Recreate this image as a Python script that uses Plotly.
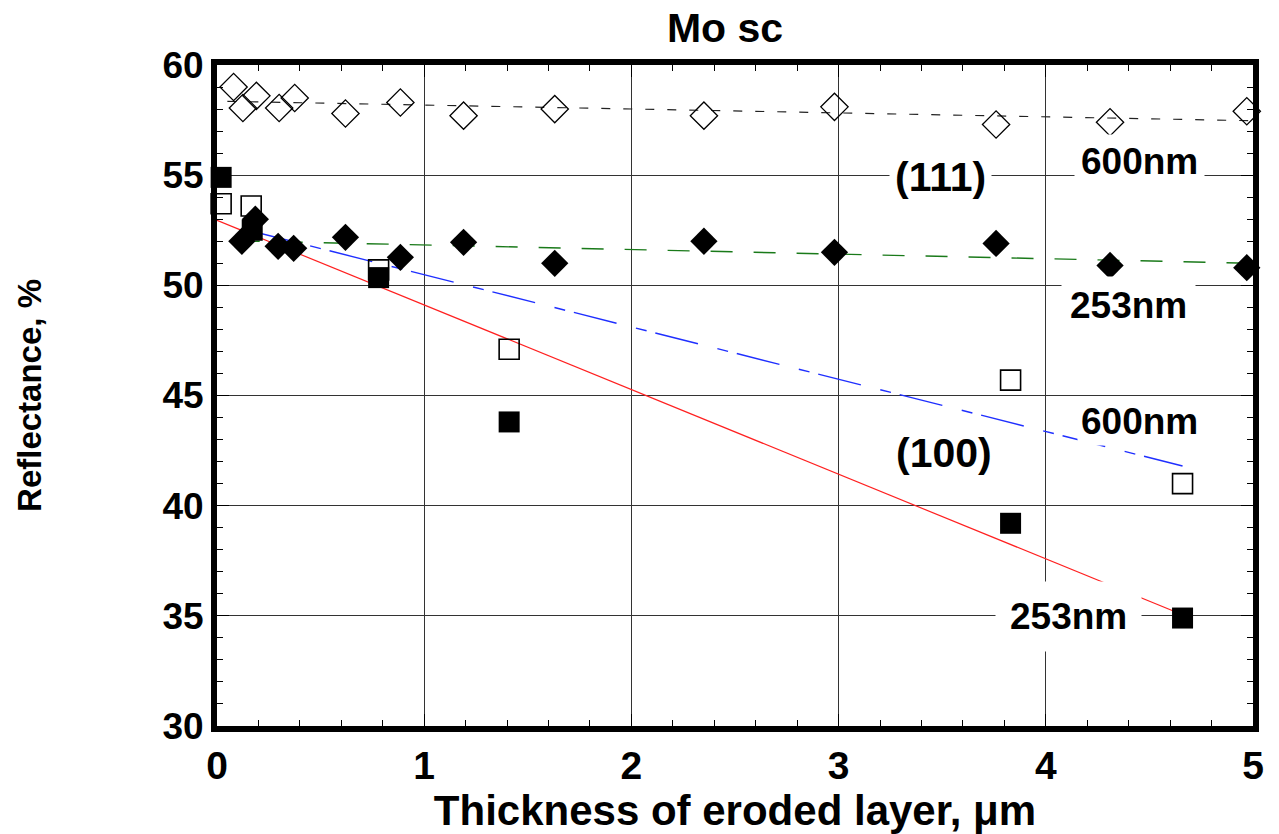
import plotly.graph_objects as go

# ---- data ----
# (111) 600 nm : open diamonds
x111_600 = [0.08, 0.125, 0.19, 0.30, 0.375, 0.62, 0.885, 1.19, 1.63, 2.35, 2.98, 3.76, 4.31, 4.97]
y111_600 = [59.0, 58.05, 58.6, 58.05, 58.5, 57.8, 58.3, 57.7, 58.0, 57.7, 58.1, 57.3, 57.4, 57.9]
# (111) 253 nm : filled diamonds
x111_253 = [0.12, 0.185, 0.295, 0.37, 0.62, 0.885, 1.19, 1.63, 2.35, 2.98, 3.76, 4.31, 4.97]
y111_253 = [52.0, 53.0, 51.77, 51.68, 52.18, 51.27, 51.95, 51.0, 52.0, 51.5, 51.9, 50.9, 50.8]
# (100) 600 nm : open squares
x100_600 = [0.02, 0.165, 0.78, 1.41, 3.83, 4.66]
y100_600 = [53.7, 53.6, 50.7, 47.1, 45.7, 41.0]
# (100) 253 nm : filled squares
x100_253 = [0.02, 0.17, 0.78, 1.41, 3.83, 4.66]
y100_253 = [54.9, 52.5, 50.35, 43.8, 39.2, 34.9]

# trend lines (end points)
fit111_600_x = [0.05, 5.0]
fit111_600_y = [58.35, 57.47]
fit111_253_x = [0.10, 5.0]
fit111_253_y = [52.02, 51.0]
fit100_600_x = [0.15, 4.66]
fit100_600_y = [52.5, 41.8]
fit100_253_x = [0.0, 4.66]
fit100_253_y = [52.95, 35.05]

title_text = "Mo sc"
x_title = "Thickness of eroded layer, μm"
y_title = "Reflectance, %"

FONT = "Liberation Sans, Arial, sans-serif"

fig = go.Figure()

# lines
fig.add_trace(go.Scatter(x=fit111_600_x, y=fit111_600_y, mode="lines",
                         line=dict(color="#222222", width=1.2, dash="9px,13px"),
                         showlegend=False, hoverinfo="skip"))
fig.add_trace(go.Scatter(x=fit111_253_x, y=fit111_253_y, mode="lines",
                         line=dict(color="#1a7a1a", width=1.4, dash="22px,21px"),
                         showlegend=False, hoverinfo="skip"))
fig.add_trace(go.Scatter(x=fit100_600_x, y=fit100_600_y, mode="lines",
                         line=dict(color="#1f2fff", width=1.4, dash="44px,20px,11px,9px"),
                         showlegend=False, hoverinfo="skip"))
fig.add_trace(go.Scatter(x=fit100_253_x, y=fit100_253_y, mode="lines",
                         line=dict(color="#ff2020", width=1.2),
                         showlegend=False, hoverinfo="skip"))

# markers
fig.add_trace(go.Scatter(x=x111_600, y=y111_600, mode="markers", cliponaxis=False,
                         marker=dict(symbol="diamond-open", size=21, color="black",
                                     line=dict(width=1.3, color="black")),
                         showlegend=False))
fig.add_trace(go.Scatter(x=x100_600, y=y100_600, mode="markers", cliponaxis=False,
                         marker=dict(symbol="square-open", size=20, color="black",
                                     line=dict(width=1.6, color="black")),
                         showlegend=False))
fig.add_trace(go.Scatter(x=x111_253, y=y111_253, mode="markers", cliponaxis=False,
                         marker=dict(symbol="diamond", size=21, color="black",
                                     line=dict(width=0)),
                         showlegend=False))
fig.add_trace(go.Scatter(x=x100_253, y=y100_253, mode="markers", cliponaxis=False,
                         marker=dict(symbol="square", size=21, color="black",
                                     line=dict(width=0)),
                         showlegend=False))

labels = [
    ("(111)", 3.49, 54.9, 5, 41),
    ("600nm", 4.45, 55.6, 6, 37),
    ("253nm", 4.40, 49.1, 8, 37),
    ("600nm", 4.45, 43.8, 3, 37),
    ("(100)", 3.51, 42.4, 3, 41),
    ("253nm", 4.11, 34.95, 14, 37),
]
for txt, xx, yy, pad, fs in labels:
    fig.add_annotation(x=xx, y=yy, text=txt, showarrow=False,
                       font=dict(family=FONT, size=fs, color="black", weight="bold"),
                       bgcolor="white", borderpad=pad, xanchor="center", yanchor="middle")

axis_common = dict(
    showline=True, linewidth=6, linecolor="black", mirror="allticks",
    ticks="inside", ticklen=12, tickwidth=1, tickcolor="black",
    showgrid=True, gridcolor="#333333", gridwidth=1, zeroline=False,
)

fig.update_xaxes(range=[0, 5], dtick=1, tick0=0, automargin=False,
                 minor=dict(dtick=0.2, ticks="inside", ticklen=6, tickcolor="black",
                            tickwidth=1, showgrid=False),
                 tickfont=dict(family=FONT, size=39, color="black", weight="bold"),
                 title=dict(text=x_title, font=dict(family=FONT, size=42, color="black", weight="bold")),
                 **axis_common)
fig.update_yaxes(range=[30, 60], dtick=5, tick0=30, automargin=True,
                 minor=dict(dtick=1, ticks="inside", ticklen=6, tickcolor="black",
                            tickwidth=1, showgrid=False),
                 tickfont=dict(family=FONT, size=37, color="black", weight="bold"),
                 title=dict(text=y_title, font=dict(family=FONT, size=33, color="black", weight="bold"),
                            standoff=113),
                 **axis_common)

fig.update_layout(
    width=1279, height=834,
    margin=dict(l=217, r=26, t=65, b=108),
    paper_bgcolor="white", plot_bgcolor="white",
    title=dict(text=title_text, x=725/1279, xref="container", xanchor="center",
               y=1 - 28/834, yref="container", yanchor="middle",
               font=dict(family=FONT, size=41, color="black", weight="bold")),
)

fig.write_html("out.html")
